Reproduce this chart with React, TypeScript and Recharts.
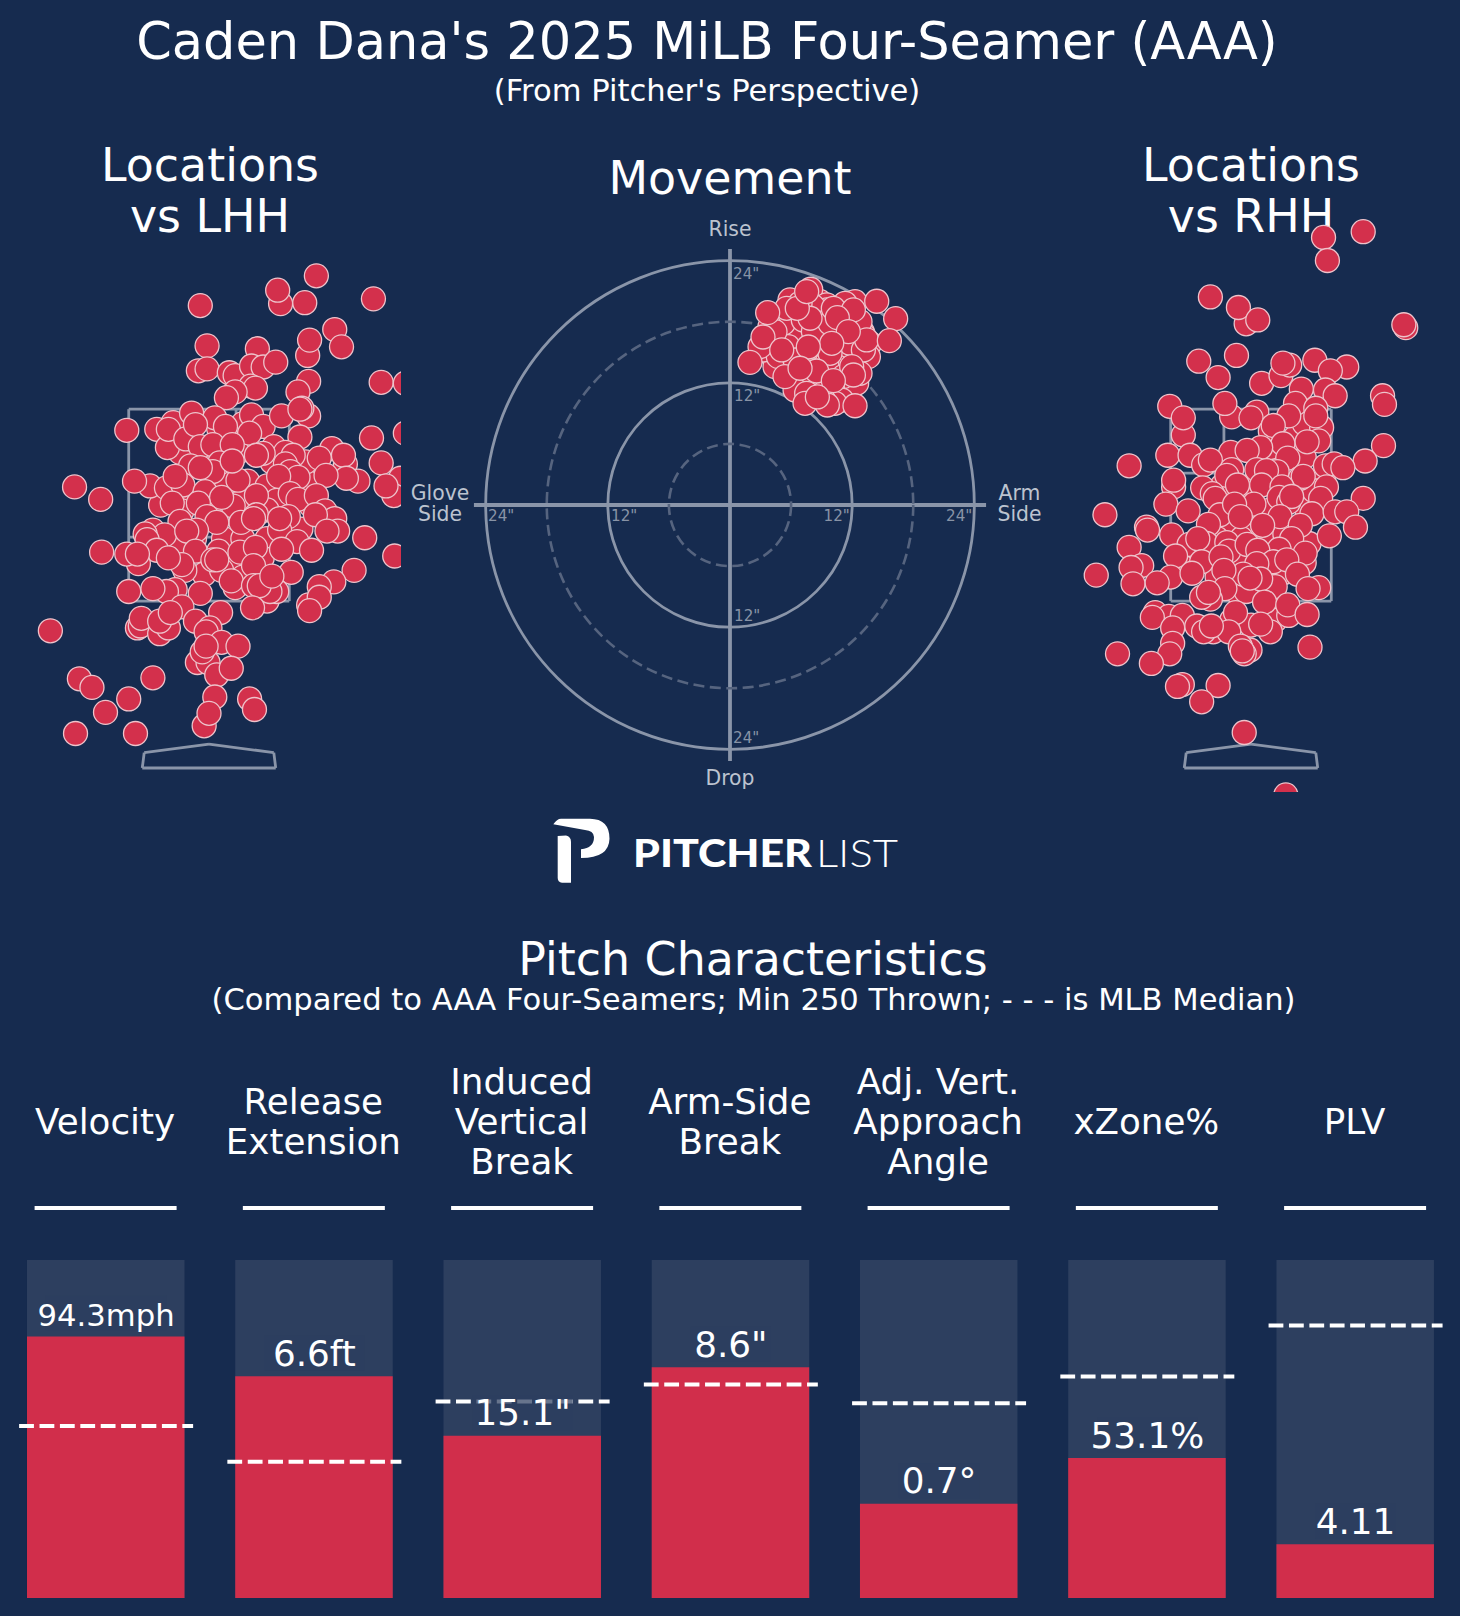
import {
  ComposedChart,
  Bar,
  Line,
  ScatterChart,
  Scatter,
  XAxis,
  YAxis,
  ReferenceLine,
  ReferenceDot,
} from "recharts";

const BG = "#162b4f";
const TRACK = "#2d3f5f";
const RED = "#d12e4b";
const LINE = "#8a95a9";
const FONT = "'DejaVu Sans', sans-serif";

// percentile bars, left to right
const metricTitles = [
  ["Velocity"],
  ["Release", "Extension"],
  ["Induced", "Vertical", "Break"],
  ["Arm-Side", "Break"],
  ["Adj. Vert.", "Approach", "Angle"],
  ["xZone%"],
  ["PLV"],
];
const metricValues = ["94.3mph", "6.6ft", '15.1"', '8.6"', "0.7\u00b0", "53.1%", "4.11"];
const percentiles = [77.4, 65.6, 48, 68.3, 27.9, 41.4, 15.9];
const medians = [50.9, 40.3, 58.1, 63.2, 57.6, 65.5, 80.6];

const barData = metricValues.map((label, i) => ({
  label,
  percentile: percentiles[i],
  median: medians[i],
}));

// plate location vs LHH: [horizontal ft, height ft]
const lhhPitches = [
  [-.5, 2.5], [-.2, 2.55], [0, 2.45], [.2, 2.7], [.4, 2.75], [.6, 2.7], [.7, 2.55], [1, 2.75],
  [1.05, 2.5], [-.15, 2.15], [.15, 2.15], [.35, 2.15], [.6, 2.15], [.95, 2.25], [-.35, 2.05], [-.05, 1.78],
  [.2, 1.9], [.35, 1.75], [.55, 1.95], [.6, 2.45], [.35, 2.55], [-.2, 3], [0, 3], [.3, 3.05],
  [.65, 2.95], [1, 2.95], [.1, 3.3], [.35, 3.35], [-.3, 3.05], [.85, 1.8], [.6, 1.5], [.15, 2.75],
  [1.11, 4.89], [.74, 4.6], [.71, 4.74], [.99, 4.61], [1.7, 4.65], [-.09, 4.58], [1.3, 4.33], [1.37, 4.15],
  [1.02, 4.06], [1.04, 4.22], [-.02, 4.16], [.5, 4.13], [-.11, 3.9], [-.02, 3.92], [.21, 3.88], [.27, 3.85],
  [.44, 3.95], [.56, 3.94], [.69, 3.99], [1.03, 3.79], [.92, 3.68], [1.78, 3.78], [2.03, 3.77], [.43, 3.74],
  [.48, 3.72], [.27, 3.68], [.18, 3.62], [-.85, 3.28], [-.54, 3.29], [-.43, 3.1], [-.37, 3.36], [-.42, 3.29],
  [-.18, 3.46], [.06, 3.41], [.44, 3.44], [.56, 3.32], [.75, 3.43], [1.03, 3.43], [.96, 3.51], [.94, 3.5],
  [.94, 3.21], [1.68, 3.2], [2.03, 3.25], [-.24, 3.19], [-.14, 3.34], [.17, 3.32], [.42, 3.25], [-.09, 3.11],
  [.04, 3.13], [.67, 3.11], [.79, 3.05], [.87, 3.02], [1.27, 3.09], [.24, 3.13], [.56, 3.04], [1.14, 2.99],
  [1.41, 2.93], [1.39, 3.02], [1.78, 2.94], [1.98, 2.78], [1.91, 2.6], [1.83, 2.7], [1.54, 2.75], [1.42, 2.78],
  [1.21, 2.81], [-.19, 2.91], [.11, 2.94], [.49, 3.02], [.79, 2.93], [.84, 2.85], [.92, 2.79], [.04, 2.85],
  [.3, 2.76], [-.09, 2.89], [.24, 2.96], [.72, 2.8], [-1.39, 2.69], [-1.12, 2.56], [-.61, 2.7], [-.77, 2.75],
  [-.44, 2.68], [-.27, 2.71], [-.35, 2.8], [-.04, 2.64], [.25, 2.49], [-.28, 2.44], [-.38, 2.52], [.13, 2.58],
  [-.11, 2.52], [.49, 2.6], [.84, 2.62], [.92, 2.56], [1.11, 2.6], [-.3, 2.33], [-.02, 2.38], [.33, 2.32],
  [.08, 2.32], [.49, 2.4], [.82, 2.38], [1.2, 2.44], [1.3, 2.36], [1.1, 2.4], [1.33, 2.23], [1.22, 2.23],
  [.46, 2.36], [.73, 2.24], [.73, 2.36], [-.13, 2.24], [-.58, 2.24], [-.46, 2.19], [-.66, 2.2], [-.64, 2.14],
  [-.23, 2.23], [-.54, 2.03], [-.73, 1.89], [-.85, 1.99], [-.74, 1.99], [-1.11, 2.01], [1.61, 2.16], [1.92, 1.97],
  [-.14, 2.02], [.1, 2.02], [.32, 2.01], [.91, 2.12], [.75, 2.04], [1.06, 2.03], [.48, 2.06], [-.25, 1.82],
  [-.28, 1.88], [-.42, 1.95], [.13, 1.82], [.04, 1.93], [.08, 1.93], [.27, 1.64], [.23, 1.71], [.46, 1.87],
  [.46, 1.66], [.7, 1.6], [.63, 1.6], [.52, 1.66], [.65, 1.76], [1.5, 1.82], [1.29, 1.7], [1.14, 1.65],
  [1.03, 1.46], [1.14, 1.54], [1.04, 1.4], [.45, 1.43], [.12, 1.38], [-.09, 1.58], [-.83, 1.6], [-.35, 1.62],
  [-.44, 1.6], [-.58, 1.63], [-.28, 1.44], [-.74, 1.22], [-.71, 1.24], [-.7, 1.32], [-.51, 1.16], [-.42, 1.22],
  [-.51, 1.29], [-.4, 1.38], [-.14, 1.29], [.01, 1.22], [-.03, 1.18], [.13, 1.07], [.3, 1.03], [-.12, .86],
  [-.01, .86], [-.07, .97], [-.03, 1.03], [.08, .73], [.23, .8], [-1.64, 1.19], [-1.34, .69], [-1.21, .6],
  [-.58, .7], [-.83, .48], [-1.07, .34], [-1.38, .12], [-.76, .12], [.06, .5], [.42, .48], [.47, .37],
  [-.05, .2], [0, .33],
];

// plate location vs RHH
const rhhPitches = [
  [0, 2.7], [.2, 2.75], [.4, 2.65], [.55, 2.5], [.2, 2.45], [.05, 2.3], [-.2, 2.25], [-.35, 2.15],
  [-.1, 2.15], [.15, 2.15], [.35, 2.2], [-.45, 1.95], [-.15, 1.95], [.15, 1.85], [.35, 1.8], [-.35, 1.75],
  [-.15, 1.6], [-.05, 1.6], [.25, 1.65], [.55, 1.9], [.6, 2.1], [.55, 3], [.45, 3.2], [.55, 3.35],
  [.3, 3], [.2, 3.1], [-.1, 2.6], [-.3, 2.7], [.75, 2.8], [.65, 2.65], [-.6, 2], [-.7, 1.85],
  [-.2, 1.3], [0, 1.25], [.25, 1.3],
  [1.16, 5.35], [.75, 5.29], [.79, 5.05], [-.42, 4.67], [-.05, 4.39], [-.13, 4.56], [.07, 4.43], [1.6, 4.35],
  [1.58, 4.38], [-.54, 4], [-.34, 3.83], [-.15, 4.06], [.11, 3.77], [.31, 3.85], [.4, 3.96], [.33, 3.98],
  [.66, 4.01], [.99, 3.94], [.82, 3.9], [.77, 3.7], [.52, 3.71], [.87, 3.64], [1.36, 3.64], [1.38, 3.55],
  [-.84, 3.53], [-.7, 3.23], [-.7, 3.41], [-.2, 3.42], [.06, 3.47], [-.27, 3.56], [0, 3.41], [.46, 3.56],
  [.73, 3.31], [.39, 3.43], [.67, 3.51], [.67, 3.43], [.2, 3.27], [.23, 3.33], [.7, 3.17], [.33, 3.14],
  [.58, 3.16], [1.37, 3.12], [-.86, 3.02], [-.63, 3.02], [.1, 3.1], [-.21, 3.05], [-.04, 3.07], [.38, 2.99],
  [-.49, 2.92], [-.42, 2.97], [-1.26, 2.91], [1.18, 2.96], [.77, 2.91], [.86, 2.93], [.95, 2.89], [-.8, 2.69],
  [-.8, 2.76], [-.5, 2.68], [-.2, 2.87], [-.25, 2.81], [.06, 2.87], [.27, 2.85], [.16, 2.86], [.51, 2.78],
  [.54, 2.8], [.11, 2.71], [.32, 2.69], [-.14, 2.71], [-.4, 2.62], [-.37, 2.57], [.03, 2.51], [.29, 2.58],
  [.39, 2.53], [.42, 2.59], [.78, 2.69], [.72, 2.57], [1.16, 2.57], [-.88, 2.51], [-.65, 2.44], [-1.51, 2.4],
  [.63, 2.41], [.87, 2.43], [.99, 2.43], [1.08, 2.27], [.81, 2.18], [-.32, 2.4], [-.44, 2.3], [-.17, 2.51],
  [-.11, 2.38], [.3, 2.38], [.51, 2.29], [.12, 2.29], [-1.08, 2.27], [-1.07, 2.24], [-.82, 2.19], [.42, 2.15],
  [-1.26, 2.06], [-.64, 2.09], [-.46, 2.1], [-.25, 2.11], [-.23, 2.02], [-.04, 2.09], [.29, 2.04], [.07, 2.03],
  [.56, 2], [-.55, 2.15], [-.78, 1.97], [-.51, 1.91], [.23, 1.91], [-.31, 1.96], [.06, 1.89], [.37, 1.93],
  [-1.13, 1.87], [-1.24, 1.85], [-1.6, 1.77], [-1.22, 1.68], [-.83, 1.75], [-.97, 1.69], [-.61, 1.79], [-.08, 1.78],
  [-.28, 1.82], [.1, 1.73], [-.01, 1.74], [.48, 1.78], [-.27, 1.63], [-.42, 1.52], [-.51, 1.54], [-.44, 1.59],
  [.7, 1.64], [.59, 1.63], [.14, 1.49], [.39, 1.35], [.38, 1.46], [.58, 1.36], [-.16, 1.38], [-.99, 1.38],
  [-.85, 1.34], [-1.02, 1.33], [-.71, 1.35], [-.81, 1.22], [-.39, 1.18], [-.56, 1.24], [-.49, 1.18], [-.23, 1.18],
  [-.41, 1.24], [.2, 1.18], [.1, 1.26], [-.81, 1.06], [-.84, .95], [-.01, .99], [-.07, .95], [-.11, 1.03],
  [-.09, .98], [.61, 1.02], [-1.38, .95], [-1.03, .85], [-.71, .63], [-.76, .61], [-.34, .62], [-.51, .45],
  [-.07, .13], [.36, -.52],
];

// pitch movement in inches: [arm side, rise]
const movementPitches = [
  [5, 16], [6, 15], [7, 17], [8, 16], [9, 16], [10, 16], [11, 16], [12, 16],
  [12.5, 17], [11.5, 18.5], [9, 18.5], [7, 19], [6, 18.5], [5, 18.5], [10.5, 15], [12, 15],
  [11, 13.5], [9, 13], [8, 14], [7, 15.5], [6, 13], [5.2, 14], [7, 12.2], [8, 12.5],
  [9.5, 12], [10.5, 12], [11.5, 11.5], [9, 11], [10, 10.5], [7.5, 11.5], [4.8, 15.5], [13, 14.5],
  [13, 17], [11, 19.5], [8.8, 20],
  [7.92, 21.19], [5.89, 20.14], [12.28, 19.97], [11.3, 19.81], [9.5, 19.65], [8.51, 18.67], [9.5, 19.16], [8.68, 17.35],
  [13.75, 15.88], [13.59, 14.57], [12.44, 12.61], [11.62, 14.4], [8.84, 14.9], [4.58, 16.54], [3.93, 14.9], [4.42, 13.59],
  [5.73, 13.92], [6.06, 12.44], [6.71, 11.79], [8.19, 11.62], [10.64, 10.97], [12.44, 11.95], [12.77, 12.93], [13.1, 16.7],
  [10.31, 17.35], [7.2, 16.54], [6.39, 16.86], [5.24, 17.85], [3.93, 17.52], [3.27, 15.23], [7.2, 18.17], [8.19, 19.48],
  [8.84, 17.85], [10.48, 13.59], [9.5, 13.92], [11.13, 12.61], [11.79, 15.88], [13.1, 15.23], [7.2, 14.9], [5.73, 15.55],
  [4.75, 14.57], [9.82, 14.9], [6.39, 14.24], [8.84, 11.95], [7.53, 12.61], [10.15, 11.13], [10.97, 10.31], [10.31, 9.99],
  [11.95, 13.59], [8.19, 17.03], [6.88, 19.81], [5.57, 19.32], [4.42, 17.03], [12.77, 18.01], [11.13, 18.34], [9.82, 17.85],
  [7.86, 18.34], [10.15, 19.32], [12.12, 12.77], [9.17, 10.31], [6.39, 11.3], [7.53, 10.97], [13.42, 16.21], [2.95, 15.55],
  [5.4, 12.61], [14.41, 20.01], [16.27, 18.3], [15.65, 16.14], [1.96, 14.01], [3.7, 18.89], [3.24, 16.5], [6.61, 19.32],
  [7.53, 20.96], [12.12, 19.16], [10.54, 18.4], [11.62, 17.03], [9.99, 15.88], [7.69, 15.52], [5.08, 15.23], [8.51, 13.16],
  [6.88, 13.43], [10.15, 12.21], [7.37, 9.99], [9.56, 9.82], [12.28, 9.75], [8.58, 10.61],
];

const solidRings = [12, 24];
const dashedRings = [6, 18];
const moveTicks = [
  { t: '24"', x: 733, y: 279 },
  { t: '12"', x: 734, y: 401 },
  { t: '12"', x: 734, y: 621 },
  { t: '24"', x: 733, y: 743 },
  { t: '24"', x: 488, y: 521 },
  { t: '12"', x: 611, y: 521 },
  { t: '12"', x: 823.5, y: 521 },
  { t: '24"', x: 946, y: 521 },
];

// zone in feet
const ZL = -0.83;
const ZR = 0.83;
const ZB = 1.5;
const ZT = 3.5;
const zoneOutline = [
  [[ZL, ZT], [ZR, ZT]], [[ZR, ZT], [ZR, ZB]], [[ZR, ZB], [ZL, ZB]], [[ZL, ZB], [ZL, ZT]],
];
const lhhInner = [
  [[0.28, ZT], [0.28, ZB]], [[ZL, 2.167], [ZR, 2.167]],
];
const rhhInner = [
  [[-0.28, ZT], [-0.28, 2.833]], [[ZL, 2.833], [-0.28, 2.833]],
  [[0.28, ZB], [0.28, 2.167]], [[0.28, 2.167], [ZR, 2.167]],
];
const plate = [
  [[-0.69, -0.24], [-0.67, -0.08]], [[-0.67, -0.08], [0, 0.01]], [[0, 0.01], [0.67, -0.08]],
  [[0.67, -0.08], [0.69, -0.24]], [[0.69, -0.24], [-0.69, -0.24]],
];

function Txt({ x, y, size, fill = "#fff", anchor = "middle", children }: any) {
  return (
    <text x={x} y={y} fontSize={size} fill={fill} textAnchor={anchor} fontFamily={FONT}>
      {children}
    </text>
  );
}

function renderPitch(props: any) {
  return <circle cx={props.cx} cy={props.cy} r={12} fill="#d3304c" stroke="#eec3cb" strokeWidth={1.3} />;
}

function LocationChart({ left, pitches, inner }: { left: number; pitches: number[][]; inner: number[][][] }) {
  const data = pitches.map(([x, z]) => ({ x, z }));
  const segs = [...zoneOutline, ...inner, ...plate];
  return (
    <div style={{ position: "absolute", left, top: 130 }}>
      <ScatterChart width={384} height={662} margin={{ top: 0, right: 0, bottom: 0, left: 0 }}>
        <XAxis type="number" dataKey="x" domain={[-1.985, 1.985]} hide allowDataOverflow />
        <YAxis type="number" dataKey="z" domain={[-0.49, 6.41]} hide allowDataOverflow />
        {segs.map((s, i) => (
          <ReferenceLine
            key={i}
            segment={[{ x: s[0][0], y: s[0][1] }, { x: s[1][0], y: s[1][1] }]}
            stroke={LINE}
            strokeWidth={2.8}
          />
        ))}
        <Scatter data={data} isAnimationActive={false} shape={renderPitch} />
      </ScatterChart>
    </div>
  );
}

function MovementChart() {
  const data = movementPitches.map(([x, y]) => ({ x, y }));
  const pxPerInch = 10.18;
  return (
    <div style={{ position: "absolute", left: 450, top: 225 }}>
      <ScatterChart width={560} height={560} margin={{ top: 0, right: 0, bottom: 0, left: 0 }}>
        <XAxis type="number" dataKey="x" domain={[-27.5, 27.5]} hide />
        <YAxis type="number" dataKey="y" domain={[-27.5, 27.5]} hide />
        {dashedRings.map((r) => (
          <ReferenceDot
            key={r}
            x={0}
            y={0}
            r={r * pxPerInch}
            fill="none"
            stroke="#56647f"
            strokeWidth={2.6}
            strokeDasharray="11 5.5"
          />
        ))}
        {solidRings.map((r) => (
          <ReferenceDot key={r} x={0} y={0} r={r * pxPerInch} fill="none" stroke={LINE} strokeWidth={2.8} />
        ))}
        <ReferenceLine segment={[{ x: -25.15, y: 0 }, { x: 25.15, y: 0 }]} stroke={LINE} strokeWidth={3.8} />
        <ReferenceLine segment={[{ x: 0, y: -25.15 }, { x: 0, y: 25.15 }]} stroke={LINE} strokeWidth={3.8} />
        <Scatter data={data} isAnimationActive={false} shape={renderPitch} />
      </ScatterChart>
    </div>
  );
}

function renderMedian(props: any) {
  const { cx, cy, key } = props;
  return (
    <line
      key={key}
      x1={cx - 87}
      x2={cx + 87}
      y1={cy}
      y2={cy}
      stroke="#fff"
      strokeWidth={4}
      strokeDasharray="14.8 5.6"
    />
  );
}

function renderValue(props: any) {
  const { x, y, index } = props;
  const text = metricValues[index];
  const size = text.length > 6 ? 30.7 : 35.8;
  const w = text.length * 0.56 * size;
  const baseline = y - 10.5;
  return (
    <g key={index}>
      <rect x={x - w / 2} y={baseline - 30} width={w} height={35} fill={TRACK} opacity={0.72} />
      <text x={x} y={baseline} fontSize={size} fill="#fff" textAnchor="middle" fontFamily={FONT}>
        {text}
      </text>
    </g>
  );
}

function PercentileBars() {
  return (
    <div style={{ position: "absolute", left: 1.6, top: 1260 }}>
      <ComposedChart width={1457.7} height={338} data={barData} margin={{ top: 0, right: 0, bottom: 0, left: 0 }}>
        <XAxis dataKey="label" hide />
        <YAxis type="number" domain={[0, 100]} hide />
        <Bar dataKey="percentile" barSize={157.5} fill={RED} background={{ fill: TRACK }} isAnimationActive={false} />
        <Line dataKey="median" stroke="none" dot={renderMedian} activeDot={false} isAnimationActive={false} />
        <Line dataKey="percentile" stroke="none" dot={false} label={renderValue} activeDot={false} isAnimationActive={false} />
      </ComposedChart>
    </div>
  );
}

function Logo() {
  return (
    <g>
      <path
        d="M553.3 824.3 Q557 818.7 561 818.7 L590 818.7 Q609.5 819 609.5 838.7 Q609 858 581 858 L581 849.3 Q594 848 594 837 Q593.5 830.5 585 830 Z"
        fill="#fff"
      />
      <path
        d="M557.7 836 L566 835.5 Q571 836.5 571 842 L571 882.7 L562 882.7 Q557.7 882 557.7 878 Z"
        fill="#fff"
      />
      <text x={633} y={866.7} fontSize={38} fontWeight={900} fill="#fff" fontFamily="Lato, sans-serif" textLength={179} lengthAdjust="spacingAndGlyphs">
        PITCHER
      </text>
      <text x={816} y={866.7} fontSize={38} fontWeight={300} fill="#fff" fontFamily="Lato, sans-serif" textLength={82} lengthAdjust="spacingAndGlyphs">
        LIST
      </text>
    </g>
  );
}

export default function App() {
  const centers = metricTitles.map((_, i) => 105.6 + i * 208.25);
  return (
    <div style={{ position: "absolute", left: 0, top: 0, width: 1460, height: 1616, background: BG, overflow: "hidden" }}>
      <svg width={1460} height={1616} style={{ position: "absolute", left: 0, top: 0 }}>
        <Txt x={707} y={58.7} size={51}>Caden Dana's 2025 MiLB Four-Seamer (AAA)</Txt>
        <Txt x={707} y={101} size={30.6}>(From Pitcher's Perspective)</Txt>

        <Txt x={210} y={181} size={45.9}>Locations</Txt>
        <Txt x={210} y={232} size={45.9}>vs LHH</Txt>
        <Txt x={730} y={194} size={45.9}>Movement</Txt>
        <Txt x={1251} y={181} size={45.9}>Locations</Txt>
        <Txt x={1251} y={232} size={45.9}>vs RHH</Txt>

        <Txt x={730} y={236} size={20.4} fill="#bcc3cf">Rise</Txt>
        <Txt x={730} y={785} size={20.4} fill="#bcc3cf">Drop</Txt>
        <Txt x={440} y={499.7} size={20.4} fill="#bcc3cf">Glove</Txt>
        <Txt x={440} y={521} size={20.4} fill="#bcc3cf">Side</Txt>
        <Txt x={1019.5} y={499.7} size={20.4} fill="#bcc3cf">Arm</Txt>
        <Txt x={1019.5} y={521} size={20.4} fill="#bcc3cf">Side</Txt>
        {moveTicks.map((t, i) => (
          <Txt key={i} x={t.x} y={t.y} size={15.2} fill="#8893a6" anchor="start">{t.t}</Txt>
        ))}

        <Logo />

        <Txt x={753} y={974.7} size={45.9}>Pitch Characteristics</Txt>
        <Txt x={753.5} y={1009.7} size={30.6}>(Compared to AAA Four-Seamers; Min 250 Thrown; - - - is MLB Median)</Txt>

        {metricTitles.map((lines, i) => (
          <g key={i}>
            {lines.map((line, j) => (
              <Txt key={j} x={centers[i] - 0.5} y={1133.8 + (j - (lines.length - 1) / 2) * 40.2} size={35.7}>{line}</Txt>
            ))}
            <line x1={centers[i] - 71} x2={centers[i] + 71} y1={1208} y2={1208} stroke="#fff" strokeWidth={4} />
          </g>
        ))}
      </svg>
      <PercentileBars />
      <MovementChart />
      <LocationChart left={17} pitches={lhhPitches} inner={lhhInner} />
      <LocationChart left={1058.7} pitches={rhhPitches} inner={rhhInner} />
    </div>
  );
}
